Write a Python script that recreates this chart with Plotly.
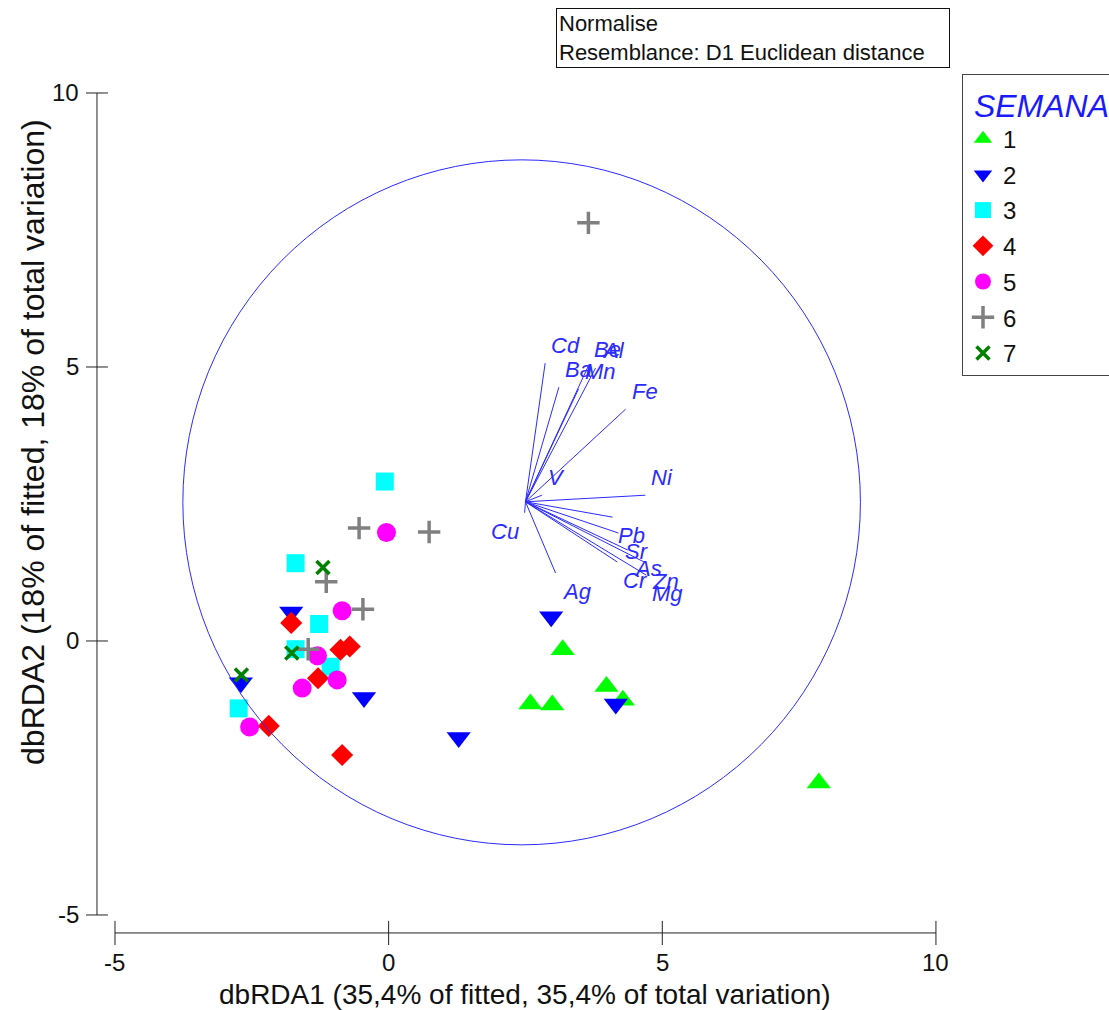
import plotly.graph_objects as go

W, H = 1109, 1010

# ---------------- data ----------------
semana = ["1", "2", "3", "4", "5", "6", "7"]

x_s1 = [3.18, 2.59, 2.99, 3.98, 4.28, 7.86]
y_s1 = [-0.16, -1.15, -1.17, -0.83, -1.08, -2.59]

x_s2 = [2.97, 4.15, 1.28, -0.45, -2.70, -1.78]
y_s2 = [0.44, -1.15, -1.76, -1.03, -0.76, 0.53]

x_s3 = [-0.07, -1.70, -1.27, -1.70, -1.06, -2.74]
y_s3 = [2.91, 1.42, 0.31, -0.15, -0.47, -1.23]

x_s4 = [-1.78, -0.88, -0.71, -1.29, -2.19, -0.85]
y_s4 = [0.33, -0.16, -0.10, -0.68, -1.55, -2.08]

x_s5 = [-0.04, -0.85, -1.30, -0.94, -1.58, -2.54]
y_s5 = [1.98, 0.55, -0.27, -0.71, -0.86, -1.57]

x_s6 = [3.65, -0.54, 0.74, -1.14, -0.47, -1.47]
y_s6 = [7.63, 2.06, 1.99, 1.08, 0.58, -0.15]

x_s7 = [-1.20, -1.77, -2.69]
y_s7 = [1.34, -0.22, -0.62]

# variable vectors (multiple partial correlations), drawn from a common origin
vec_origin = (2.50, 2.54)
vec_names = ["Cd", "Ba", "Be", "Al", "Mn", "Fe", "V", "Ni",
             "Cu", "Ag", "Pb", "Sr", "As", "Cr", "Zn", "Mg"]
vec_x = [2.86, 3.11, 3.64, 3.78, 3.47, 4.33, 2.80, 4.69,
         2.485, 3.05, 4.09, 4.20, 4.37, 4.18, 4.71, 4.71]
vec_y = [5.07, 4.63, 5.00, 4.98, 4.60, 4.23, 2.66, 2.66,
         2.34, 1.24, 2.26, 1.97, 1.66, 1.44, 1.42, 1.20]

# correlation circle (centre and radii in axis units)
circle_center = (2.43, 2.53)
circle_rx, circle_ry = 6.19, 6.25

axis_ticks = [-5, 0, 5, 10]
x_title = "dbRDA1 (35,4% of fitted, 35,4% of total variation)"
y_title = "dbRDA2 (18% of fitted, 18% of total variation)"
info_lines = ["Normalise", "Resemblance: D1 Euclidean distance"]

# ---------------- styling ----------------
symbols = ["triangle-up", "triangle-down", "square", "diamond", "circle", "cross-thin", "x-thin"]
colors = ["#00ff00", "#0000ff", "#00ffff", "#ff0000", "#ff00ff", "#808080", "#008000"]
sizes = [21, 21, 18, 17, 19, 16, 13]
vec_color = "#2b2bff"
FONT = "Liberation Sans, Arial, sans-serif"

# plotting frame (the whole canvas is the plotting area)
X_RANGE = [-7.101, 13.162]
Y_RANGE = [-6.734, 11.697]
Y_SPINE_X = -5.329
X_SPINE_Y = -5.328

groups = [(x_s1, y_s1), (x_s2, y_s2), (x_s3, y_s3), (x_s4, y_s4),
          (x_s5, y_s5), (x_s6, y_s6), (x_s7, y_s7)]

fig = go.Figure()

# vectors
vx, vy = [], []
for ex, ey in zip(vec_x, vec_y):
    vx += [vec_origin[0], ex, None]
    vy += [vec_origin[1], ey, None]
fig.add_trace(go.Scatter(x=vx, y=vy, mode="lines", line=dict(color=vec_color, width=1),
                         showlegend=False, hoverinfo="skip"))

# samples
for i, (gx, gy) in enumerate(groups):
    thin = symbols[i].endswith("-thin")
    fig.add_trace(go.Scatter(
        x=gx, y=gy, mode="markers", name=semana[i], legendgroup=semana[i],
        marker=dict(symbol=symbols[i], size=sizes[i], color=colors[i],
                    line=dict(color=colors[i], width=3.5 if thin else 0)),
    ))

shapes = []
shapes.append(dict(type="circle", xref="x", yref="y",
                   x0=circle_center[0] - circle_rx, x1=circle_center[0] + circle_rx,
                   y0=circle_center[1] - circle_ry, y1=circle_center[1] + circle_ry,
                   line=dict(color=vec_color, width=1)))
# detached axis spines with crossing ticks
ax_line = dict(color="#222222", width=1)
shapes.append(dict(type="line", xref="x", yref="y", x0=Y_SPINE_X, x1=Y_SPINE_X,
                   y0=axis_ticks[0], y1=axis_ticks[-1], line=ax_line))
shapes.append(dict(type="line", xref="x", yref="y", x0=axis_ticks[0], x1=axis_ticks[-1],
                   y0=X_SPINE_Y, y1=X_SPINE_Y, line=ax_line))
for t in axis_ticks:
    shapes.append(dict(type="line", xref="x", yref="y", x0=Y_SPINE_X - 0.2, x1=Y_SPINE_X + 0.2,
                       y0=t, y1=t, line=ax_line))
    shapes.append(dict(type="line", xref="x", yref="y", x0=t, x1=t,
                       y0=X_SPINE_Y - 0.22, y1=X_SPINE_Y + 0.22, line=ax_line))

annotations = []
tick_font = dict(family=FONT, size=24, color="#111111")
for t in axis_ticks:
    annotations.append(dict(x=-5.62, y=t, xref="x", yref="y", text=str(t), showarrow=False,
                            xanchor="right", yanchor="middle", font=tick_font))
    annotations.append(dict(x=t, y=-5.876, xref="x", yref="y", text=str(t), showarrow=False,
                            xanchor="center", yanchor="middle", font=tick_font))
annotations.append(dict(x=2.5, y=-6.45, xref="x", yref="y", text=x_title, showarrow=False,
                        xanchor="center", yanchor="middle",
                        font=dict(family=FONT, size=28, color="#111111")))
annotations.append(dict(x=-6.5, y=3.63, xref="x", yref="y", text=y_title, showarrow=False,
                        textangle=-90, xanchor="center", yanchor="middle",
                        font=dict(family=FONT, size=32, color="#111111")))

# vector labels placed just beyond each tip, on the side the vector points to
for name, ex, ey in zip(vec_names, vec_x, vec_y):
    dx, dy = ex - vec_origin[0], ey - vec_origin[1]
    annotations.append(dict(
        x=ex, y=ey, xref="x", yref="y", text=name, showarrow=False,
        xanchor="left" if dx >= 0 else "right",
        yanchor="bottom" if dy >= 0 else "top",
        xshift=4 if dx >= 0 else -4, yshift=3 if dy >= 0 else -4,
        font=dict(family=FONT, size=22, color=vec_color, style="italic"),
    ))

# info box
annotations.append(dict(x=556 / W, y=1 - 8 / H, xref="paper", yref="paper",
                        text="<br>".join(info_lines), showarrow=False, align="left",
                        xanchor="left", yanchor="top", width=388,
                        bordercolor="#111111", borderwidth=1, borderpad=2, bgcolor="white",
                        font=dict(family=FONT, size=22, color="#111111")))

fig.update_layout(
    width=W, height=H,
    margin=dict(l=0, r=0, t=0, b=0, pad=0, autoexpand=False),
    paper_bgcolor="white", plot_bgcolor="white",
    xaxis=dict(range=X_RANGE, visible=False, fixedrange=True),
    yaxis=dict(range=Y_RANGE, visible=False, fixedrange=True),
    shapes=shapes, annotations=annotations,
    legend=dict(
        x=962 / W, y=1 - 74 / H, xanchor="left", yanchor="top",
        bordercolor="#444444", borderwidth=1, bgcolor="white",
        font=dict(family=FONT, size=24, color="#111111"),
        title=dict(text=" SEMANA", font=dict(family=FONT, size=32, color="#1a1aff", style="italic")),
        tracegroupgap=1.5, itemsizing="trace", entrywidth=150,
    ),
    showlegend=True,
)

fig.write_html("out.html")
